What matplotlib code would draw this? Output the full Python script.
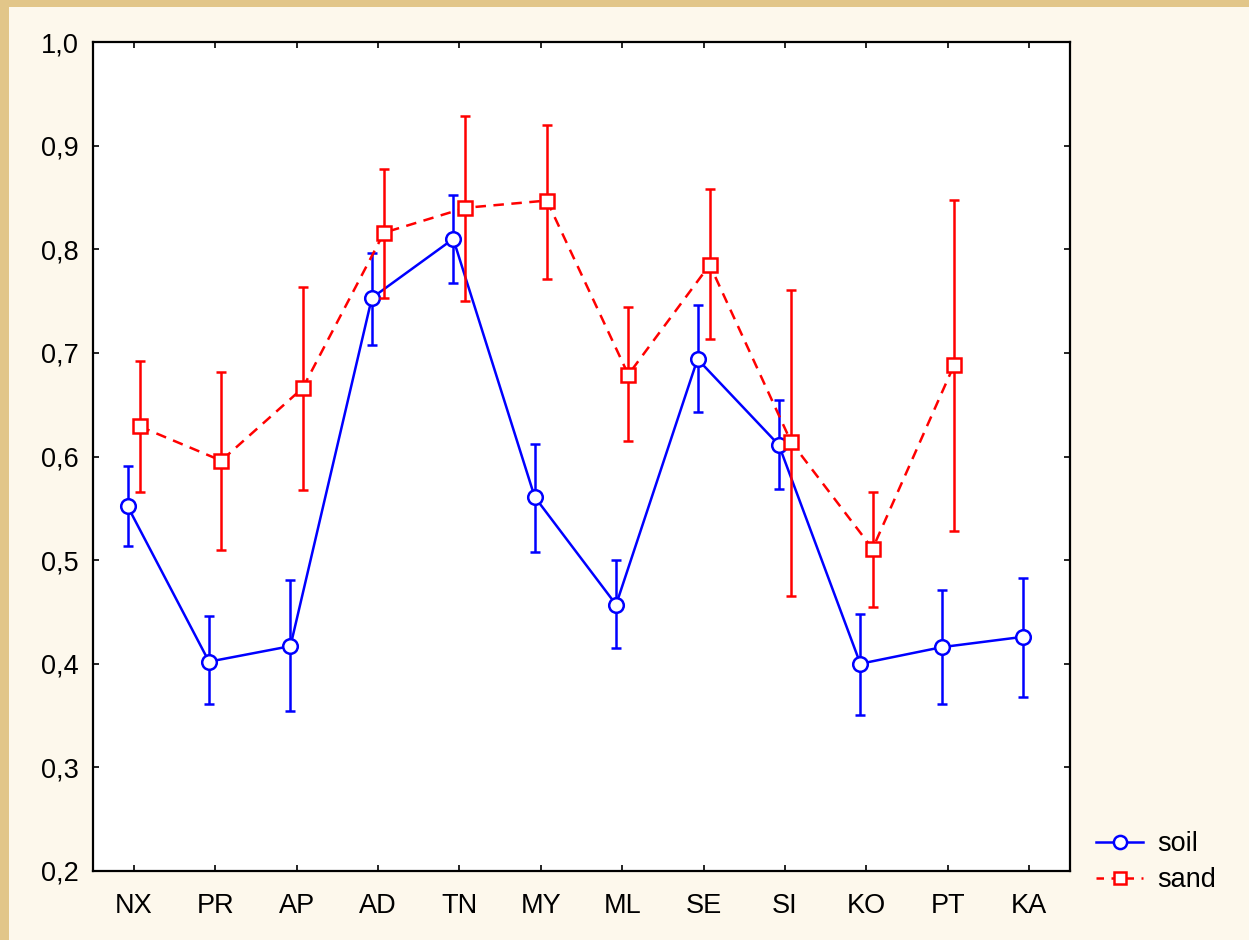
import matplotlib
matplotlib.use("Agg")
import matplotlib.pyplot as plt
from matplotlib.patches import Rectangle
from matplotlib.lines import Line2D
from matplotlib.ticker import FuncFormatter, FixedLocator
import numpy as np

categories = ["NX", "PR", "AP", "AD", "TN", "MY", "ML", "SE", "SI", "KO", "PT", "KA"]

soil_mean = [0.552, 0.402, 0.417, 0.753, 0.810, 0.561, 0.457, 0.694, 0.611, 0.400, 0.416, 0.426]
soil_low  = [0.514, 0.361, 0.354, 0.708, 0.767, 0.508, 0.415, 0.643, 0.569, 0.351, 0.361, 0.368]
soil_high = [0.591, 0.446, 0.481, 0.796, 0.852, 0.612, 0.500, 0.746, 0.655, 0.448, 0.471, 0.483]

sand_mean = [0.629, 0.596, 0.666, 0.816, 0.840, 0.847, 0.679, 0.785, 0.614, 0.511, 0.688]
sand_low  = [0.566, 0.510, 0.568, 0.753, 0.750, 0.771, 0.615, 0.713, 0.465, 0.455, 0.528]
sand_high = [0.692, 0.682, 0.764, 0.877, 0.929, 0.920, 0.744, 0.858, 0.761, 0.566, 0.848]

y_ticks = [0.2, 0.3, 0.4, 0.5, 0.6, 0.7, 0.8, 0.9, 1.0]

plt.rcParams['font.family'] = ['Liberation Sans', 'DejaVu Sans']

fig = plt.figure(figsize=(12.49, 9.40), dpi=100)
fig.patch.set_facecolor('#e2c689')
bg = fig.add_axes([9/1249, 0, 1 - 9/1249, 1 - 7/940], zorder=0)
bg.set_axis_off()
bg.add_patch(Rectangle((0, 0), 1, 1, transform=bg.transAxes, facecolor='#fdf8ec', edgecolor='none'))

ax = fig.add_axes([93/1249, 1 - 871/940, (1070 - 93)/1249, (871 - 42)/940], zorder=2)
ax.set_facecolor('white')

x = np.arange(len(categories))
off = 0.075
LW = 1.8

sm = np.array(soil_mean)
soil_err = [sm - np.array(soil_low), np.array(soil_high) - sm]
ax.errorbar(x - off, sm, yerr=soil_err, color='#0000ff', lw=LW, elinewidth=LW,
            capsize=3.5, capthick=LW, marker='o', markersize=10.5, mfc='white',
            mec='#0000ff', mew=LW, zorder=3)

nsand = len(sand_mean)
sdm = np.array(sand_mean)
sand_err = [sdm - np.array(sand_low), np.array(sand_high) - sdm]
ax.errorbar(x[:nsand] + off, sdm, yerr=sand_err, color='#ff0000', lw=LW, elinewidth=LW,
            capsize=3.5, capthick=LW, marker='s', markersize=10, mfc='white',
            mec='#ff0000', mew=LW, ls=(0, (4.2, 3)), zorder=4)

ax.set_xlim(-0.5, len(categories) - 0.5)
ax.set_ylim(0.2, 1.0)
ax.set_xticks(x)
ax.set_xticklabels(categories)
ax.yaxis.set_major_locator(FixedLocator(y_ticks))
ax.yaxis.set_major_formatter(FuncFormatter(lambda v, p: f"{v:.1f}".replace('.', ',')))
ax.tick_params(direction='in', length=4.5, width=1.2, top=True, right=True,
               labelsize=19.5, colors='black')
ax.tick_params(axis='y', pad=10.5)
ax.tick_params(axis='x', pad=16)
for s in ax.spines.values():
    s.set_linewidth(1.6)
    s.set_color('black')

handles = [
    Line2D([], [], color='#0000ff', lw=LW, marker='o', markersize=9.5, mfc='white',
           mec='#0000ff', mew=LW),
    Line2D([], [], color='#ff0000', lw=LW, marker='s', markersize=9, mfc='white',
           mec='#ff0000', mew=LW, ls=(0, (3, 3))),
]
leg = fig.legend(handles, ['soil', 'sand'], loc='upper left',
                 bbox_to_anchor=(1096/1249, 1 - 831/940),
                 frameon=False, fontsize=19.5, handlelength=1.75, handletextpad=0.5,
                 labelspacing=0.38, borderaxespad=0, borderpad=0)

fig.savefig('out.png', dpi=100, facecolor=fig.get_facecolor())
